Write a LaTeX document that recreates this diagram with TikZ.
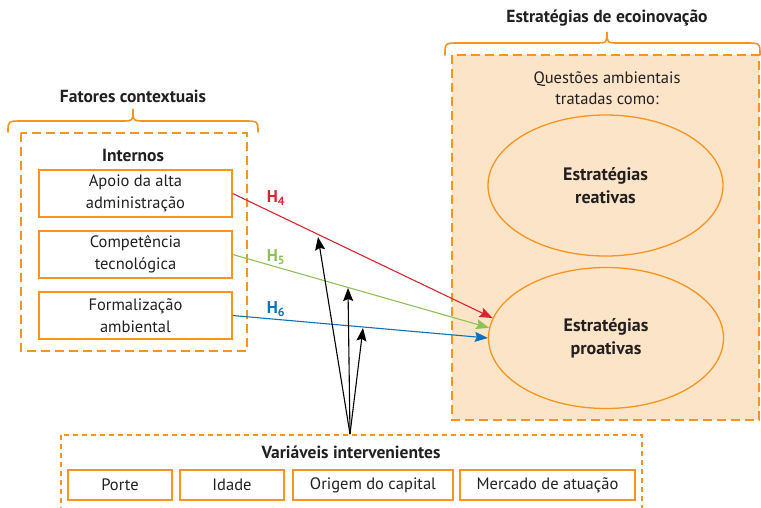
\documentclass[tikz,border=0pt]{standalone}
\usepackage{fontspec}
\setmainfont{PT Sans}
\usetikzlibrary{arrows.meta,shapes.geometric}
\definecolor{ora}{HTML}{F7941D}
\definecolor{peach}{HTML}{FCE4C8}
\definecolor{txt}{HTML}{231F20}
\definecolor{hred}{HTML}{D7262E}
\definecolor{hgreen}{HTML}{8DC153}
\definecolor{hblue}{HTML}{0A72BA}
\tikzset{
  bigdash/.style={draw=ora, line width=2pt, dash pattern=on 9pt off 5pt},
  smalldash/.style={draw=ora, line width=1.2pt, dash pattern=on 5pt off 4pt},
  bracestyle/.style={draw=ora, line width=1.6pt, line cap=round},
  factorbox/.style={draw=ora, line width=1.4pt, rectangle, minimum width=193pt, minimum height=47pt, inner sep=0pt, align=center, font=\fontsize{16.5}{22}\selectfont, text=txt},
  varbox/.style={draw=ora, line width=1.4pt, rectangle, minimum height=30pt, inner sep=0pt, font=\fontsize{16.5}{20}\selectfont, text=txt},
  title/.style={font=\fontsize{17.5}{21}\selectfont\bfseries, text=txt, inner sep=0pt},
  strat/.style={draw=ora, line width=1.3pt, ellipse, minimum width=235pt, minimum height=141pt, inner sep=0pt, align=center, font=\fontsize{18}{23}\selectfont\bfseries, text=txt},
  harrow/.style={line width=1.1pt, -{Stealth[length=13pt,width=10pt,inset=2pt]}},
  karrow/.style={line width=1.1pt, draw=black, -{Stealth[length=13pt,width=10pt,inset=2pt]}},
  hlabel/.style={font=\fontsize{17}{20}\selectfont\bfseries, inner sep=0pt}
}
\begin{document}
\begin{tikzpicture}[x=1pt,y=-1pt]
\useasboundingbox (0,0) rectangle (761,507);
\clip (0,0) rectangle (761,507);
% left group
\node[title] (fc) at (133,96) {Fatores contextuais};
\draw[bracestyle] (8,132) .. controls (8,121) .. (22,121) -- (121,121) .. controls (133,121) .. (133,109) .. controls (133,121) .. (145,121) -- (244,121) .. controls (258,121) .. (258,132);
\draw[bigdash] (21,133) rectangle (247,351);
\node[title] (int) at (133,155) {Internos};
\node[factorbox] (f1) at (135.5,193.5) {Apoio da alta\\administração};
\node[factorbox] (f2) at (135.5,254.5) {Competência\\tecnológica};
\node[factorbox] (f3) at (135.5,315.5) {Formalização\\ambiental};
% right group
\node[title] (ee) at (607,18) {Estratégias de ecoinovação};
\draw[bracestyle] (445,55) .. controls (445,43) .. (459,43) -- (595,43) .. controls (607,43) .. (607,32) .. controls (607,43) .. (619,43) -- (746,43) .. controls (760,43) .. (760,55);
\draw[bigdash, fill=peach] (452,55) rectangle (759,420);
\node[font=\fontsize{16.5}{21}\selectfont, text=txt, align=center, inner sep=0pt] (qa) at (607,88) {Questões ambientais\\tratadas como:};
\node[strat] (rea) at (605.5,185.5) {Estratégias\\reativas};
\node[strat] (pro) at (606,338) {Estratégias\\proativas};
% bottom group
\draw[smalldash] (61,435) rectangle (642,515);
\node[title] (vi) at (351,452) {Variáveis intervenientes};
\node[varbox, minimum width=104pt] (v1) at (120,485) {Porte};
\node[varbox, minimum width=104pt] (v2) at (232,485) {Idade};
\node[varbox, minimum width=160pt] (v3) at (373,485) {Origem do capital};
\node[varbox, minimum width=175pt] (v4) at (547.5,485) {Mercado de atuação};
\coordinate (src) at (350,434);
% hypothesis arrows
\draw[harrow, draw=hred, color=hred] (f1.east) -- (pro.170);
\draw[harrow, draw=hgreen, color=hgreen] (f2.east) -- (pro.175);
\draw[harrow, draw=hblue, color=hblue] (f3.east) -- (pro.west);
\node[hlabel, text=hred] (h4) at (276,198) {H\textsubscript{4}};
\node[hlabel, text=hgreen] (h5) at (276,257) {H\textsubscript{5}};
\node[hlabel, text=hblue] (h6) at (276,309) {H\textsubscript{6}};
% moderating arrows
\coordinate (m1) at (318,237);
\coordinate (m2) at (348,288);
\coordinate (m3) at (363,328);
\draw[karrow] (src) -- (m1);
\draw[karrow] (src) -- (m2);
\draw[karrow] (src) -- (m3);
\end{tikzpicture}
\end{document}
